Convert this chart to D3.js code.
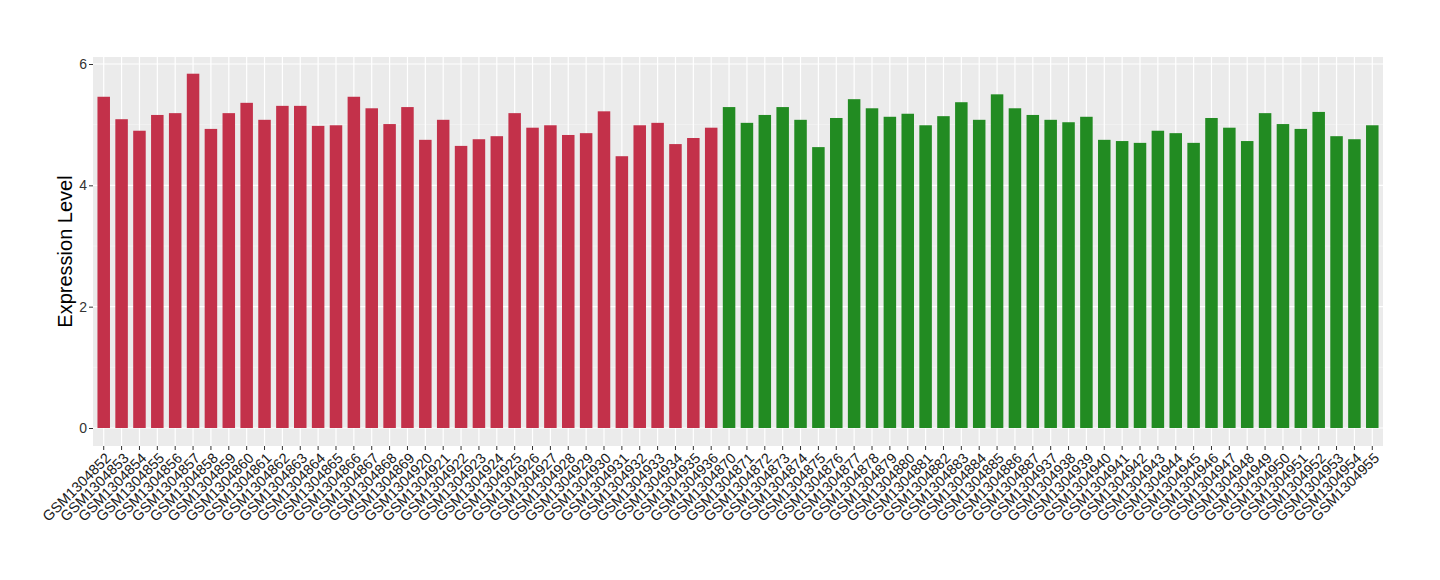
<!DOCTYPE html>
<html>
<head>
<meta charset="utf-8">
<script src="https://cdn.jsdelivr.net/npm/d3@7"></script>
<style>
  html, body { margin: 0; padding: 0; background: #fff; }
  svg { display: block; font-family: "Liberation Sans", Arial, Helvetica, sans-serif; }
</style>
</head>
<body>
<svg id="chart" width="1440" height="580"></svg>
<script>
// ---- data ----
const redSamples = ["GSM1304852","GSM1304853","GSM1304854","GSM1304855","GSM1304856","GSM1304857","GSM1304858","GSM1304859","GSM1304860","GSM1304861","GSM1304862","GSM1304863","GSM1304864","GSM1304865","GSM1304866","GSM1304867","GSM1304868","GSM1304869","GSM1304920","GSM1304921","GSM1304922","GSM1304923","GSM1304924","GSM1304925","GSM1304926","GSM1304927","GSM1304928","GSM1304929","GSM1304930","GSM1304931","GSM1304932","GSM1304933","GSM1304934","GSM1304935","GSM1304936"];
const redValues = [5.46,5.09,4.90,5.16,5.19,5.84,4.93,5.19,5.36,5.08,5.31,5.31,4.98,4.99,5.46,5.27,5.01,5.29,4.75,5.08,4.65,4.76,4.81,5.19,4.95,4.99,4.83,4.86,5.22,4.48,4.99,5.03,4.68,4.78,4.95];
const greenSamples = ["GSM1304870","GSM1304871","GSM1304872","GSM1304873","GSM1304874","GSM1304875","GSM1304876","GSM1304877","GSM1304878","GSM1304879","GSM1304880","GSM1304881","GSM1304882","GSM1304883","GSM1304884","GSM1304885","GSM1304886","GSM1304887","GSM1304937","GSM1304938","GSM1304939","GSM1304940","GSM1304941","GSM1304942","GSM1304943","GSM1304944","GSM1304945","GSM1304946","GSM1304947","GSM1304948","GSM1304949","GSM1304950","GSM1304951","GSM1304952","GSM1304953","GSM1304954","GSM1304955"];
const greenValues = [5.29,5.03,5.16,5.29,5.08,4.63,5.11,5.42,5.27,5.13,5.18,4.99,5.14,5.37,5.08,5.50,5.27,5.16,5.08,5.04,5.13,4.75,4.73,4.70,4.90,4.86,4.70,5.11,4.95,4.73,5.19,5.01,4.93,5.21,4.81,4.76,4.99];
const yTicks = [0, 2, 4, 6];
const yMinor = [1, 3, 5];
const groupColors = { red: "#C3314A", green: "#228B22" };

// ---- build table ----
const rows = redSamples.map((s, i) => ({ sample: s, value: redValues[i], group: "red" }))
  .concat(greenSamples.map((s, i) => ({ sample: s, value: greenValues[i], group: "green" })));

const svg = d3.select("#chart");
const panel = { left: 93, right: 1383, top: 57, bottom: 446 };

const x = d3.scaleBand()
  .domain(rows.map(d => d.sample))
  .range([panel.left, panel.right])
  .paddingInner(0.3)
  .paddingOuter(0.25);

// y: 0 at 428, 6 at 64
const y = d3.scaleLinear().domain([0, 6]).range([428, 64]);

// panel background
svg.append("rect")
  .attr("x", panel.left).attr("y", panel.top)
  .attr("width", panel.right - panel.left).attr("height", panel.bottom - panel.top)
  .attr("fill", "#EBEBEB");

// minor horizontal grid
svg.append("g").selectAll("line").data(yMinor).join("line")
  .attr("x1", panel.left).attr("x2", panel.right)
  .attr("y1", d => y(d)).attr("y2", d => y(d))
  .attr("stroke", "#F7F7F7").attr("stroke-width", 0.6);

// major horizontal grid
svg.append("g").selectAll("line").data(yTicks).join("line")
  .attr("x1", panel.left).attr("x2", panel.right)
  .attr("y1", d => y(d)).attr("y2", d => y(d))
  .attr("stroke", "#FFFFFF").attr("stroke-width", 1.2);

// vertical grid at each category
svg.append("g").selectAll("line").data(rows).join("line")
  .attr("x1", d => x(d.sample) + x.bandwidth() / 2)
  .attr("x2", d => x(d.sample) + x.bandwidth() / 2)
  .attr("y1", panel.top).attr("y2", panel.bottom)
  .attr("stroke", "#FFFFFF").attr("stroke-width", 1.2);

// bars
svg.append("g").selectAll("rect").data(rows).join("rect")
  .attr("x", d => x(d.sample))
  .attr("width", x.bandwidth())
  .attr("y", d => y(d.value))
  .attr("height", d => y(0) - y(d.value))
  .attr("fill", d => groupColors[d.group]);

// y axis
const yAxis = d3.axisLeft(y).tickValues(yTicks).tickSize(4).tickPadding(2).tickFormat(d3.format("d"));
const gy = svg.append("g").attr("transform", `translate(${panel.left},0)`).call(yAxis);
gy.select(".domain").remove();
gy.selectAll(".tick line").attr("stroke", "#333333").attr("stroke-width", 1);
gy.selectAll(".tick text").attr("fill", "#333333").style("font-size", "14px")
  .style("font-family", "'Liberation Sans', Arial, sans-serif");

// x axis
const xAxis = d3.axisBottom(x).tickSize(4).tickPadding(2);
const gx = svg.append("g").attr("transform", `translate(0,${panel.bottom})`).call(xAxis);
gx.select(".domain").remove();
gx.selectAll(".tick line").attr("stroke", "#333333").attr("stroke-width", 1);
gx.selectAll(".tick text")
  .attr("fill", "#1A1A1A")
  .style("font-size", "14.5px")
  .style("font-family", "'Liberation Sans', Arial, sans-serif")
  .attr("text-anchor", "end")
  .attr("dy", null)
  .attr("y", 0)
  .attr("transform", "translate(8,13) rotate(-45)");

// y title
svg.append("text")
  .attr("transform", `translate(72,${(panel.top + panel.bottom) / 2}) rotate(-90)`)
  .attr("text-anchor", "middle")
  .attr("fill", "#000")
  .style("font-size", "20px")
  .style("font-family", "'Liberation Sans', Arial, sans-serif")
  .text("Expression Level");
</script>
</body>
</html>
